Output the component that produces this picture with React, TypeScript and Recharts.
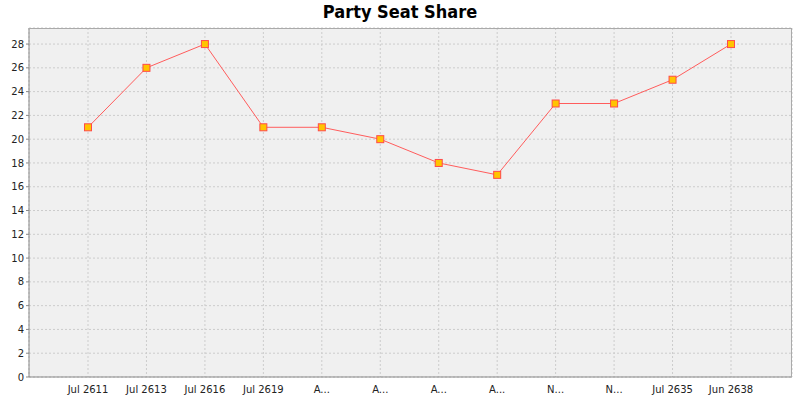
import React from 'react';
import { LineChart, Line, XAxis, YAxis, CartesianGrid } from 'recharts';

const periods = ['Jul 2611', 'Jul 2613', 'Jul 2616', 'Jul 2619', 'A...', 'A...', 'A...', 'A...', 'N...', 'N...', 'Jul 2635', 'Jun 2638'];
const seats = [21, 26, 28, 21, 21, 20, 18, 17, 23, 23, 25, 28];
const seatTicks = [0, 2, 4, 6, 8, 10, 12, 14, 16, 18, 20, 22, 24, 26, 28];

const data = periods.map((p, i) => ({ idx: i, period: p, seats: seats[i] }));

const SquareDot = (props: any) => {
  const { cx, cy, index } = props;
  if (cx == null || cy == null) return null;
  return (
    <rect
      key={'dot-' + index}
      x={cx - 3.5}
      y={cy - 3.5}
      width={7}
      height={7}
      fill="#ffc400"
      stroke="#ff4a4a"
      strokeWidth={1}
    />
  );
};

const tickFont = { fontFamily: 'DejaVu Sans', fontSize: 10, fill: '#222' };

export default function App() {
  return (
    <div style={{ position: 'absolute', left: 0, top: 0, width: 800, height: 400, background: '#fff' }}>
      <div
        style={{
          position: 'absolute',
          top: 1,
          left: 0,
          width: 800,
          textAlign: 'center',
          fontFamily: 'DejaVu Sans Condensed, DejaVu Sans',
          fontWeight: 'bold',
          fontSize: 18,
          color: '#000',
        }}
      >
        Party Seat Share
      </div>
      <LineChart width={800} height={400} data={data} margin={{ top: 28, right: 8, bottom: 3, left: 0 }}>
        <CartesianGrid
          stroke="#cccccc"
          strokeDasharray="2 2"
          fill="#f0f0f0"
          fillOpacity={1}
        />
        <XAxis
          dataKey="period"
          height={20}
          padding={{ left: 59, right: 61 }}
          tickLine={false}
          axisLine={{ stroke: '#888' }}
          tick={tickFont}
          interval={0}
          tickMargin={3}
        />
        <YAxis
          width={29}
          domain={[0, 29.35]}
          ticks={seatTicks}
          allowDataOverflow
          axisLine={{ stroke: '#888' }}
          tickLine={{ stroke: '#888' }}
          tickSize={3}
          tick={tickFont}
          tickMargin={2}
        />
        <Line
          dataKey="seats"
          stroke="#ff5c5c"
          strokeWidth={1}
          isAnimationActive={false}
          dot={SquareDot}
          activeDot={false}
        />
      </LineChart>
      <div
        style={{
          position: 'absolute',
          left: 29,
          top: 28,
          width: 763,
          height: 349,
          borderTop: '1px solid #aaa',
          borderRight: '1px solid #aaa',
          boxSizing: 'border-box',
          pointerEvents: 'none',
        }}
      />
    </div>
  );
}
